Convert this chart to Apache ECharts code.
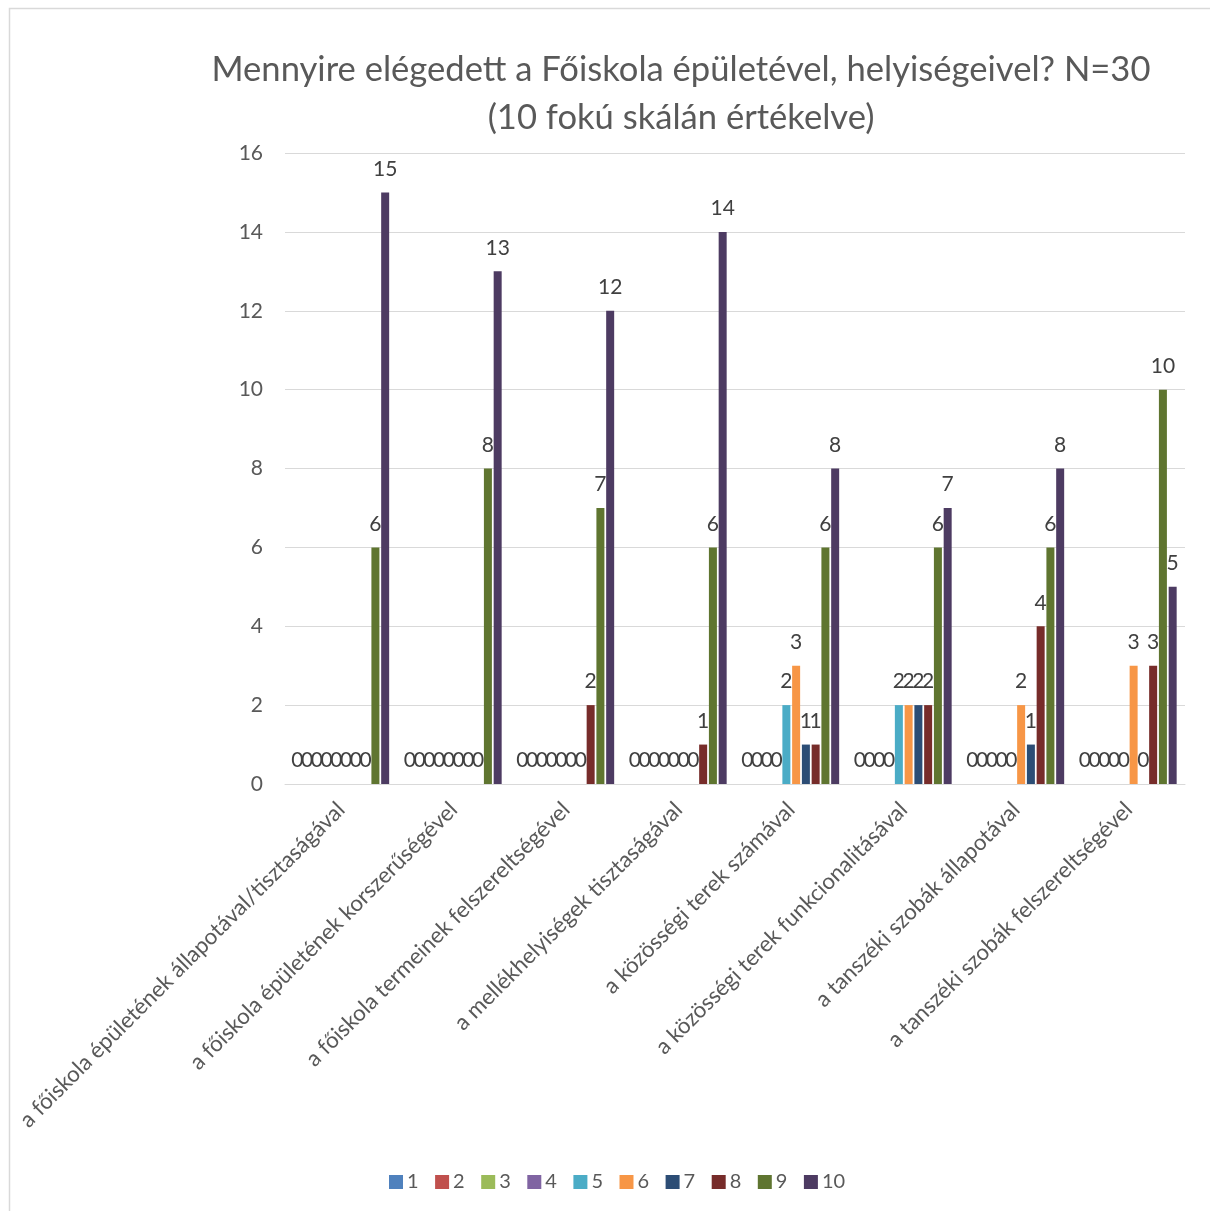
<!DOCTYPE html>
<html>
<head>
<meta charset="utf-8">
<script src="https://cdn.jsdelivr.net/npm/echarts@6/dist/echarts.min.js"></script>
<style>
html,body{margin:0;padding:0;background:#fff;}
#chart{width:1210px;height:1211px;}
</style>
</head>
<body>
<div id="chart"></div>
<script>
const titleLines = ['Mennyire elégedett a Főiskola épületével, helyiségeivel? N=30', '(10 fokú skálán értékelve)'];
const categories = [
  'a főiskola épületének állapotával/tisztaságával',
  'a főiskola épületének korszerűségével',
  'a főiskola termeinek felszereltségével',
  'a mellékhelyiségek tisztaságával',
  'a közösségi terek számával',
  'a közösségi terek funkcionalitásával',
  'a tanszéki szobák állapotával',
  'a tanszéki szobák felszereltségével'
];
const seriesNames = ['1','2','3','4','5','6','7','8','9','10'];
const s1  = [0, 0, 0, 0, 0, 0, 0, 0];
const s2  = [0, 0, 0, 0, 0, 0, 0, 0];
const s3  = [0, 0, 0, 0, 0, 0, 0, 0];
const s4  = [0, 0, 0, 0, 0, 0, 0, 0];
const s5  = [0, 0, 0, 0, 2, 2, 0, 0];
const s6  = [0, 0, 0, 0, 3, 2, 2, 3];
const s7  = [0, 0, 0, 0, 1, 2, 1, 0];
const s8  = [0, 0, 2, 1, 1, 2, 4, 3];
const s9  = [6, 8, 7, 6, 6, 6, 6, 10];
const s10 = [15, 13, 12, 14, 8, 7, 8, 5];
const seriesValues = [s1, s2, s3, s4, s5, s6, s7, s8, s9, s10];
const yTicks = {min: 0, max: 16, interval: 2};
const colors = ['#4F81BD','#C0504D','#9BBB59','#8064A2','#4BACC6','#F79646','#2C4D75','#772C2A','#5F7530','#4D3B62'];

const FONT = 'Lato';
const chart = echarts.init(document.getElementById('chart'), null, {renderer: 'canvas'});
chart.setOption({
  animation: false,
  color: colors,
  textStyle: {fontFamily: FONT},
  title: {
    text: titleLines.join('\n'),
    left: 676,
    top: 41,
    textAlign: 'center',
    textStyle: {fontFamily: FONT, fontSize: 34.6, fontWeight: 'normal', color: '#595959', lineHeight: 48}
  },
  graphic: [{
    type: 'rect',
    shape: {x: 9.5, y: 8.5, width: 1300, height: 1300},
    style: {fill: 'none', stroke: '#d9d9d9', lineWidth: 1.5},
    silent: true
  }],
  legend: {
    left: 384,
    top: 1167,
    itemWidth: 14,
    itemHeight: 14,
    itemGap: 16.5,
    icon: 'rect',
    textStyle: {fontFamily: FONT, fontSize: 20, color: '#595959', padding: [0, 0, 0, -1]},
    data: seriesNames
  },
  grid: {left: 285, right: 25, top: 153, bottom: 427, containLabel: false},
  xAxis: {
    type: 'category',
    data: categories,
    axisLine: {lineStyle: {color: '#d9d9d9', width: 1}},
    axisTick: {show: false},
    axisLabel: {rotate: 45, interval: 0, margin: 22, fontFamily: FONT, fontSize: 22.3, color: '#595959'}
  },
  yAxis: {
    type: 'value',
    min: yTicks.min, max: yTicks.max, interval: yTicks.interval,
    axisLine: {show: false},
    axisTick: {show: false},
    splitLine: {lineStyle: {color: '#d9d9d9', width: 1}},
    axisLabel: {margin: 22, fontFamily: FONT, fontSize: 21, color: '#595959'}
  },
  series: seriesNames.map((n, i) => ({
    name: n,
    type: 'bar',
    data: seriesValues[i],
    barWidth: 8,
    barGap: '22%',
    label: {show: true, position: 'top', distance: 13, fontFamily: FONT, fontSize: 21, color: '#404040'}
  }))
});
</script>
</body>
</html>
